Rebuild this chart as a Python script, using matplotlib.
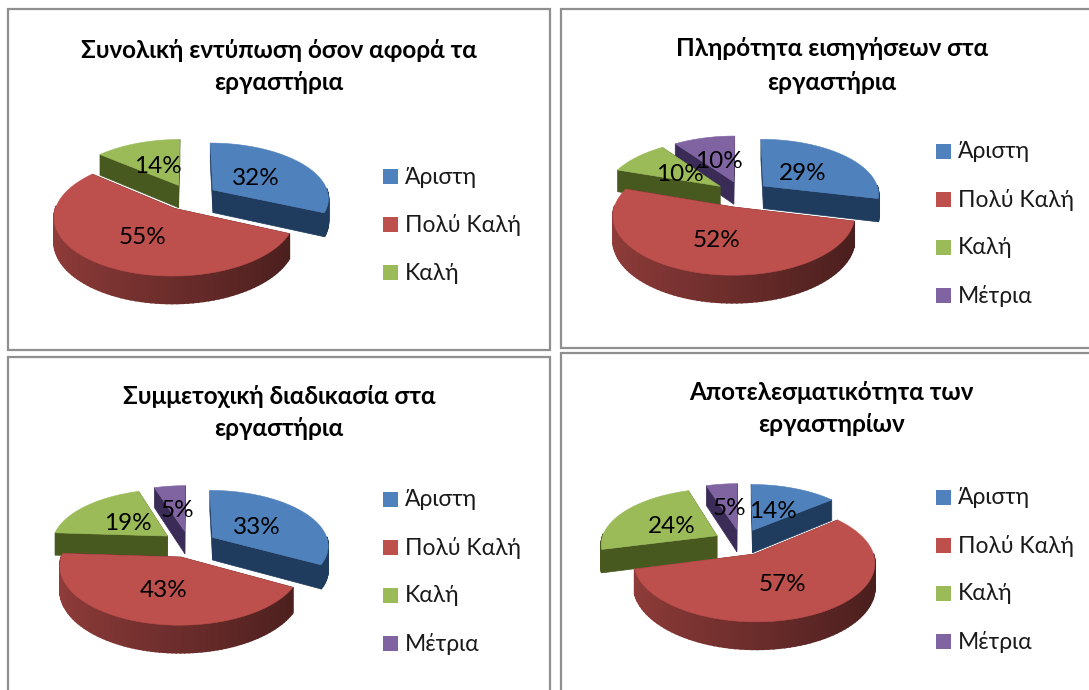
import numpy as np
import matplotlib
matplotlib.use('Agg')
import matplotlib.pyplot as plt
from matplotlib.patches import Polygon, Rectangle

plt.rcParams['font.family'] = ['Lato', 'Open Sans', 'DejaVu Sans']

# data
categories = ['Άριστη', 'Πολύ Καλή', 'Καλή', 'Μέτρια']
titles = [
    'Συνολική εντύπωση όσον αφορά τα\nεργαστήρια',
    'Πληρότητα εισηγήσεων στα\nεργαστήρια',
    'Συμμετοχική διαδικασία στα\nεργαστήρια',
    'Αποτελεσματικότητα των\nεργαστηρίων',
]
impression = [32, 55, 14]
completeness = [29, 52, 10, 10]
participation = [33, 43, 19, 5]
effectiveness = [14, 57, 24, 5]
panel_values = [impression, completeness, participation, effectiveness]

# layout
top_colors = ['#4f81bd', '#bd4f4c', '#9bbb59', '#8064a2']
side_colors = ['#1f3b5e', '#5e2422', '#47591f', '#3b2c57']
pie_centers = [(190, 197), (742, 194), (189, 544), (741, 542)]
title_x = [279, 832, 279, 831]
title_y = [(51, 82), (48, 82), (396, 428), (393, 424)]
legend_x = [383, 936, 383, 936]
legend_y0 = [177, 152, 500, 498]
RX, RY, PERSP, DEPTH, EXPLODE = 116, 55, 0.135, 23, 0.24
BORDER = '#8f8f8f'


def project(cx, cy, x, y):
    s = 1 / (1 + PERSP * y)
    return cx + RX * x * s, cy - RY * y * s, s


def draw_slice(ax, cx, cy, a0, a1, color_idx):
    mid = (a0 + a1) / 2
    ox, oy = EXPLODE * np.sin(mid), EXPLODE * np.cos(mid)
    ang = np.linspace(a0, a1, 90)
    rim_x, rim_y, rim_s = project(cx, cy, ox + np.sin(ang), oy + np.cos(ang))
    ax_x, ax_y, ax_s = project(cx, cy, ox, oy)

    # cut faces, the top surface hides the ones turned away
    for i in (0, -1):
        face = [(ax_x, ax_y), (rim_x[i], rim_y[i]),
                (rim_x[i], rim_y[i] + DEPTH * rim_s[i]), (ax_x, ax_y + DEPTH * ax_s)]
        ax.add_patch(Polygon(face, closed=True, fc=side_colors[color_idx],
                             ec=side_colors[color_idx], lw=0.5))

    # outer wall, only the part that faces the viewer
    base = np.array(matplotlib.colors.to_rgb(top_colors[color_idx]))
    for i in range(len(ang) - 1):
        if np.cos(ang[i]) > 0.03:
            continue
        if color_idx == 1:
            col = base * (0.76 - 0.38 * (np.sin(ang[i]) + 1) / 2)
        else:
            col = side_colors[color_idx]
        seg = [(rim_x[i], rim_y[i]), (rim_x[i + 1], rim_y[i + 1]),
               (rim_x[i + 1], rim_y[i + 1] + DEPTH * rim_s[i + 1]),
               (rim_x[i], rim_y[i] + DEPTH * rim_s[i])]
        ax.add_patch(Polygon(seg, closed=True, fc=col, ec=col, lw=1.2))

    top = [(ax_x, ax_y)] + list(zip(rim_x, rim_y))
    ax.add_patch(Polygon(top, closed=True, fc=top_colors[color_idx],
                         ec=top_colors[color_idx], lw=0.4))


def draw_pie(ax, values, cx, cy):
    total = sum(values)
    edges = np.concatenate([[0], np.cumsum(values)]) / total * 2 * np.pi
    mids = (edges[:-1] + edges[1:]) / 2
    # back slices first
    for i in np.argsort(-np.cos(mids)):
        draw_slice(ax, cx, cy, edges[i], edges[i + 1], i)
    for i, v in enumerate(values):
        lx = (EXPLODE + 0.47) * np.sin(mids[i])
        ly = (EXPLODE + 0.5) * np.cos(mids[i])
        tx, ty, _ = project(cx, cy, lx, ly)
        ax.text(tx, ty + 3, f'{v}%', ha='center', va='center', fontsize=17.5, color='black')


fig = plt.figure(figsize=(10.89, 6.9), dpi=100)
ax = fig.add_axes([0, 0, 1, 1])
ax.set_xlim(0, 1089)
ax.set_ylim(690, 0)
ax.axis('off')

# panel frames
ax.add_patch(Rectangle((8, 9), 542, 341, fc='white', ec=BORDER, lw=1.6))
ax.add_patch(Rectangle((560.5, 9), 540, 339, fc='white', ec=BORDER, lw=1.6))
ax.add_patch(Rectangle((8, 357), 542, 345, fc='white', ec=BORDER, lw=1.6))
ax.add_patch(Rectangle((560.5, 353), 540, 350, fc='white', ec=BORDER, lw=1.6))

for p, values in enumerate(panel_values):
    cx, cy = pie_centers[p]
    draw_pie(ax, values, cx, cy)
    for line, y in zip(titles[p].split('\n'), title_y[p]):
        ax.text(title_x[p], y, line, ha='center', va='center',
                fontsize=17.5, fontweight='bold', color='black')
    for i in range(len(values)):
        y = legend_y0[p] + i * 48
        ax.add_patch(Rectangle((legend_x[p], y - 8.5), 15, 15, fc=top_colors[i], ec='none'))
        ax.text(legend_x[p] + 22, y, categories[i], ha='left', va='center',
                fontsize=16.5, color='#1a1a1a')

fig.savefig('out.png', dpi=100)
